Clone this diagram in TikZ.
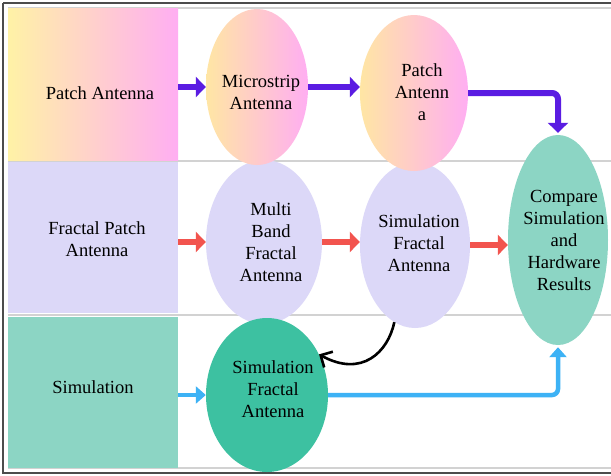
\documentclass[tikz,border=0pt]{standalone}
\usepackage{fontspec}
\setmainfont{Liberation Serif}
\usetikzlibrary{shapes.geometric,arrows.meta}
\definecolor{cyel}{HTML}{FFF2A6}
\definecolor{cpink}{HTML}{FFAEF2}
\definecolor{eyel}{HTML}{FFE6A4}
\definecolor{lav}{HTML}{DCD8F8}
\definecolor{tealL}{HTML}{8CD5C4}
\definecolor{tealD}{HTML}{3DC1A1}
\definecolor{cpurp}{HTML}{5A1CE2}
\definecolor{cred}{HTML}{F2544E}
\definecolor{cblue}{HTML}{3DB2F5}
\definecolor{sep}{HTML}{D2D2D2}
\tikzset{
  x=1pt, y=1pt,
  txt/.style={font=\fontsize{18.5}{22}\selectfont, align=center},
  rowbox/.style={rectangle, draw=none, minimum width=170pt, inner sep=0pt},
  ell/.style={ellipse, draw=none, inner sep=0pt},
  parr/.style={draw=cpurp, line width=6pt, -{Triangle[width=20pt,length=10pt]}},
  rarr/.style={draw=cred, line width=6pt, -{Triangle[width=20pt,length=10pt]}},
  barr/.style={draw=cblue, line width=4.5pt, -{Triangle[width=17pt,length=10pt]}},
}
\begin{document}
\begin{tikzpicture}
\useasboundingbox (0,0) rectangle (611,-475);
\fill[white] (0,0) rectangle (611,-475);
% frame
\draw[line width=1.2pt, draw=black!70] (3,-3) -- (3,-473) -- (611,-473);
\draw[line width=1.2pt, draw=black!70] (3,-3) -- (611,-3);
% row lines
\draw[sep, line width=1.5pt] (8,-8) -- (611,-8);
\draw[sep, line width=2pt] (8,-160.5) -- (611,-160.5);
\draw[sep, line width=2pt] (8,-314.5) -- (611,-314.5);
\draw[sep, line width=1.5pt] (8,-468) -- (611,-468);
% left boxes
\node[rowbox, minimum height=152pt, left color=cyel, right color=cpink,
  label={[txt, xshift=7pt, yshift=-9pt]center:Patch Antenna}] (pa) at (93,-84) {};
\node[rowbox, minimum height=151pt, fill=lav,
  label={[txt, xshift=4pt, yshift=-2pt]center:Fractal Patch\\Antenna}] (fp) at (93,-237.5) {};
\node[rowbox, minimum height=151pt, fill=tealL,
  label={[txt, yshift=5pt]center:Simulation}] (sm) at (93,-392) {};
% row 2 ellipses
\node[ell, fill=lav, minimum width=116pt, minimum height=164pt,
  label={[txt, xshift=7pt]center:Multi\\Band\\Fractal\\Antenna}] (mb) at (264,-242) {};
\node[ell, fill=lav, minimum width=110pt, minimum height=166pt,
  label={[txt, xshift=4pt, yshift=2pt]center:Simulation\\Fractal\\Antenna}] (sf) at (415,-245) {};
% row 1 ellipses
\node[ell, left color=eyel, right color=cpink, minimum width=102pt, minimum height=156pt,
  label={[txt, xshift=4pt, yshift=-5pt]center:Microstrip\\Antenna}] (ms) at (257,-87) {};
\node[ell, left color=eyel, right color=cpink, minimum width=108pt, minimum height=156pt,
  label={[txt, xshift=8pt, yshift=1pt]center:Patch\\Antenn\\a}] (pan) at (414,-93) {};
% compare
\node[ell, fill=tealL, minimum width=100pt, minimum height=210pt,
  label={[txt, xshift=6pt]center:Compare\\Simulation\\and\\Hardware\\Results}] (cmp) at (558,-240) {};
% row 3 ellipse
\node[ell, fill=tealD, minimum width=122pt, minimum height=154pt,
  label={[txt, xshift=6pt, yshift=6pt]center:Simulation\\Fractal\\Antenna}] (s3) at (267,-395) {};
% purple arrows
\draw[parr] (pa.east |- ms) -- (ms.west);
\draw[parr] (ms.east) -- (ms.east -| pan.west);
\draw[parr, rounded corners=6pt] (pan.east) -| ([yshift=2pt]cmp.north);
% red arrows
\draw[rarr] (fp.east |- mb) -- (mb.west);
\draw[rarr] (mb.east) -- (mb.east -| sf.west);
\draw[rarr] (sf.east) -- (sf.east -| cmp.west);
% blue arrows
\draw[barr] (sm.east |- s3) -- (s3.west);
\draw[barr, rounded corners=6pt] (s3.east) -| ([yshift=-2pt]cmp.south);
% black curve
\draw[line width=2.6pt, -{Straight Barb[length=9pt,width=18pt]}]
  (sf.255) .. controls (388,-352) and (362,-378) .. (s3.38);
\end{tikzpicture}
\end{document}
